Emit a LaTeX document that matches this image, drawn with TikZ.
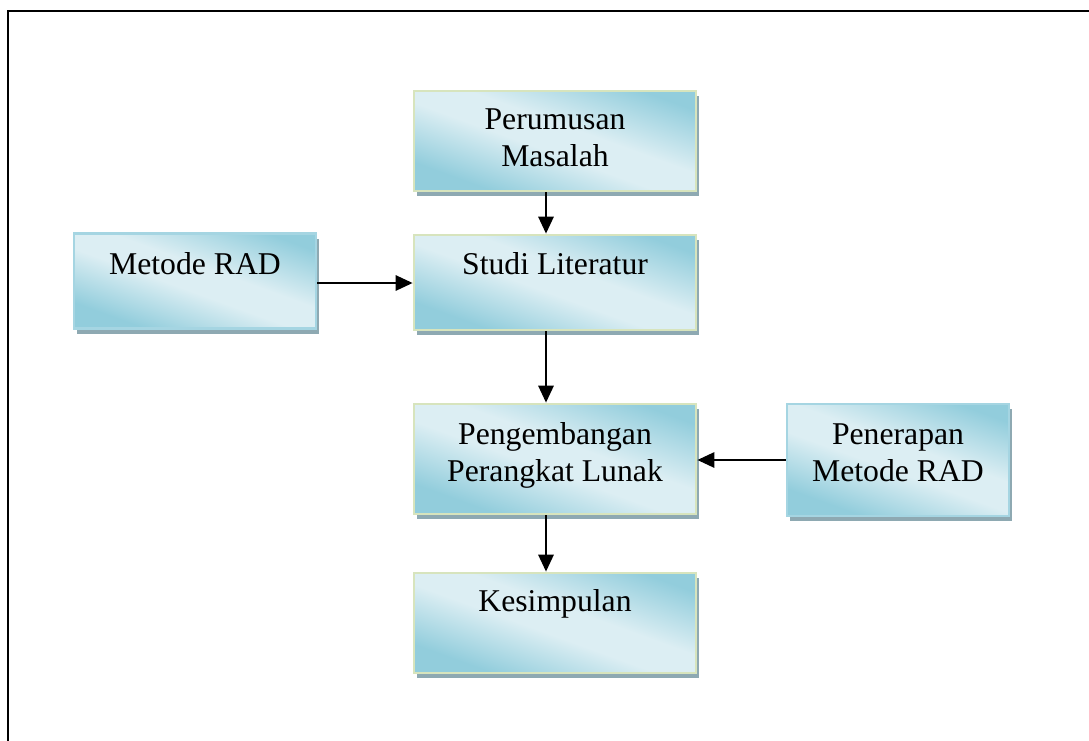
\documentclass[tikz,border=0pt]{standalone}
\usepackage{fontspec}
\setmainfont{Liberation Serif}
\usetikzlibrary{shadows,arrows.meta}
\definecolor{dk}{HTML}{92CDDC}
\definecolor{lt}{HTML}{DCEEF3}
\definecolor{olb}{HTML}{D7E4BD}
\definecolor{blb}{HTML}{A5D5E2}
\definecolor{shc}{HTML}{8EA9B2}
\pgfdeclarehorizontalshading{boxshade}{100bp}{color(0bp)=(dk); color(27bp)=(dk); color(46bp)=(lt); color(56bp)=(lt); color(76bp)=(dk); color(100bp)=(dk)}
\tikzset{
  boxbase/.style={rectangle, line width=2.6pt, shading=boxshade, shading angle=70,
    drop shadow={shadow xshift=3pt, shadow yshift=-5pt, fill=shc, opacity=1}, inner sep=0pt},
  boxo/.style={boxbase, draw=olb},
  boxb/.style={boxbase, draw=blb},
  txt/.style={font=\fontsize{31.7}{37}\selectfont, align=center, anchor=base, inner sep=0pt},
  arr/.style={line width=2.8pt, -{Triangle[length=17pt,width=15pt]}}
}
\begin{document}
\begin{tikzpicture}[x=1pt,y=-1pt]
\useasboundingbox (0,0) rectangle (1089,740);
\draw[line width=2.6pt] (8,742) -- (8,11) -- (1092,11);
\node[boxo, minimum width=282pt, minimum height=100pt] (per) at (555,141) {};
\node[boxo, minimum width=282pt, minimum height=95pt] (stu) at (555,282.5) {};
\node[boxb, minimum width=242pt, minimum height=95pt] (met) at (195,281) {};
\node[boxo, minimum width=282pt, minimum height=110pt] (peng) at (555,459) {};
\node[boxb, minimum width=222pt, minimum height=112pt] (pen) at (898,460) {};
\node[boxo, minimum width=282pt, minimum height=100pt] (kes) at (555,623) {};
\node[txt] (tper) at ([yshift=-77pt]per.north) {Perumusan\\Masalah};
\node[txt] (tstu) at ([yshift=-41pt]stu.north) {Studi Literatur};
\node[txt] (tmet) at ([yshift=-42pt]met.north) {Metode RAD};
\node[txt] (tpeng) at ([yshift=-79pt]peng.north) {Pengembangan\\Perangkat Lunak};
\node[txt] (tpen) at ([yshift=-79pt]pen.north) {Penerapan\\Metode RAD};
\node[txt] (tkes) at ([yshift=-40pt]kes.north) {Kesimpulan};
\draw[arr] ([xshift=-9pt]per.south) -- ([xshift=-9pt]stu.north);
\draw[arr] ([yshift=-2pt]met.east) -- ([yshift=-2pt]met.east -| stu.west);
\draw[arr] ([xshift=-9pt]stu.south) -- ([xshift=-9pt]peng.north);
\draw[arr] (pen.west) -- (pen.west -| peng.east);
\draw[arr] ([xshift=-9pt]peng.south) -- ([xshift=-9pt]kes.north);
\end{tikzpicture}
\end{document}
